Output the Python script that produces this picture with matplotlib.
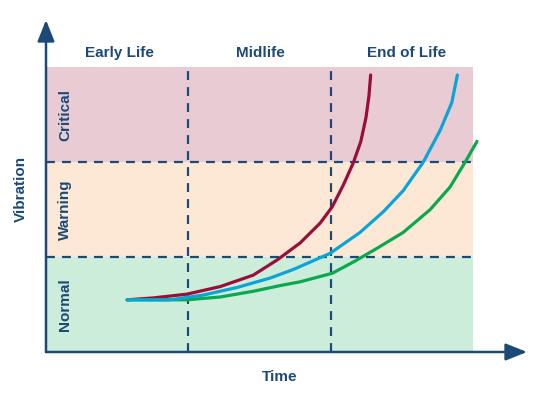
import matplotlib.pyplot as plt

# phases along time axis (0-100) and vibration levels (0-3)
phases = ["Early Life", "Midlife", "End of Life"]
phase_edges = [0, 33.3, 66.7, 100]
levels = ["Normal", "Warning", "Critical"]
level_edges = [0, 1, 2, 3]
band_colors = ["#cdeddb", "#fde8d6", "#e8cbd3"]

# curves
red_t = [19.0, 25.1, 33.0, 40.8, 48.5, 54.1, 59.5, 64.2, 67.0, 69.6, 71.9, 73.7, 74.9, 75.6, 76.0]
red_v = [0.55, 0.57, 0.61, 0.69, 0.81, 0.97, 1.15, 1.36, 1.53, 1.76, 1.99, 2.22, 2.47, 2.70, 2.92]

blue_t = [19.0, 29.0, 36.8, 44.7, 52.5, 57.9, 66.5, 73.5, 79.0, 83.6, 88.3, 92.3, 95.0, 96.3]
blue_v = [0.55, 0.55, 0.60, 0.68, 0.78, 0.87, 1.04, 1.26, 1.48, 1.70, 2.00, 2.34, 2.63, 2.92]

green_t = [19.0, 33.0, 40.8, 48.5, 54.8, 59.5, 67.0, 72.0, 77.0, 83.6, 89.9, 94.6, 98.1, 100.9]
green_v = [0.55, 0.55, 0.58, 0.64, 0.70, 0.74, 0.83, 0.95, 1.08, 1.26, 1.50, 1.74, 2.00, 2.22]

navy = "#1b4a78"
plt.rcParams['font.family'] = ['Liberation Sans', 'DejaVu Sans']

fig = plt.figure(figsize=(5.4, 3.97), dpi=100)
ax = fig.add_axes([46 / 540, 45 / 397, 481 / 540, 332 / 397])
ax.set_xlim(0, 112.6)
ax.set_ylim(0, 3.5)
ax.axis('off')

# background bands
for i in range(len(levels)):
    ax.fill_between([phase_edges[0], phase_edges[-1]], level_edges[i], level_edges[i + 1],
                    color=band_colors[i], lw=0, zorder=0)
    ax.text(4.5, (level_edges[i] + level_edges[i + 1]) / 2, levels[i], rotation=90,
            ha='center', va='center', fontsize=11, fontweight='bold', color=navy)

# dashed separators
for x in phase_edges[1:-1]:
    ax.plot([x, x], [0, level_edges[-1]], color=navy, lw=1.6, ls=(0, (4, 3.2)), zorder=1)
for y in level_edges[1:-1]:
    ax.plot([0, phase_edges[-1]], [y, y], color=navy, lw=1.6, ls=(0, (4, 3.2)), zorder=1)

label_x = [17.3, 50.1, 84.5]
for i in range(len(phases)):
    ax.text(label_x[i], 3.15, phases[i], ha='center', va='center',
            fontsize=11, fontweight='bold', color=navy)

ax.plot(red_t, red_v, color="#9b0d3a", lw=2.3, solid_capstyle='round', solid_joinstyle='round', zorder=3)
ax.plot(green_t, green_v, color="#0aa84f", lw=2.3, solid_capstyle='round', solid_joinstyle='round', zorder=4)
ax.plot(blue_t, blue_v, color="#0aa5d5", lw=2.3, solid_capstyle='round', solid_joinstyle='round', zorder=5)

# axes arrows
arrow = dict(arrowstyle='-|>,head_length=1.0,head_width=0.4', color=navy, lw=1.8,
             mutation_scale=13, shrinkA=0, shrinkB=0)
ax.annotate('', xy=(0, 3.5), xytext=(0, 0), arrowprops=arrow, annotation_clip=False, zorder=6)
ax.annotate('', xy=(112.6, 0), xytext=(0, 0), arrowprops=arrow, annotation_clip=False, zorder=6)

ax.text(-5.9, 1.72, "Vibration", rotation=90, ha='center', va='center',
        fontsize=11, fontweight='bold', color=navy, clip_on=False)
ax.text(54.8, -0.26, "Time", ha='center', va='center',
        fontsize=11, fontweight='bold', color=navy, clip_on=False)

fig.savefig("out.png", dpi=100)
